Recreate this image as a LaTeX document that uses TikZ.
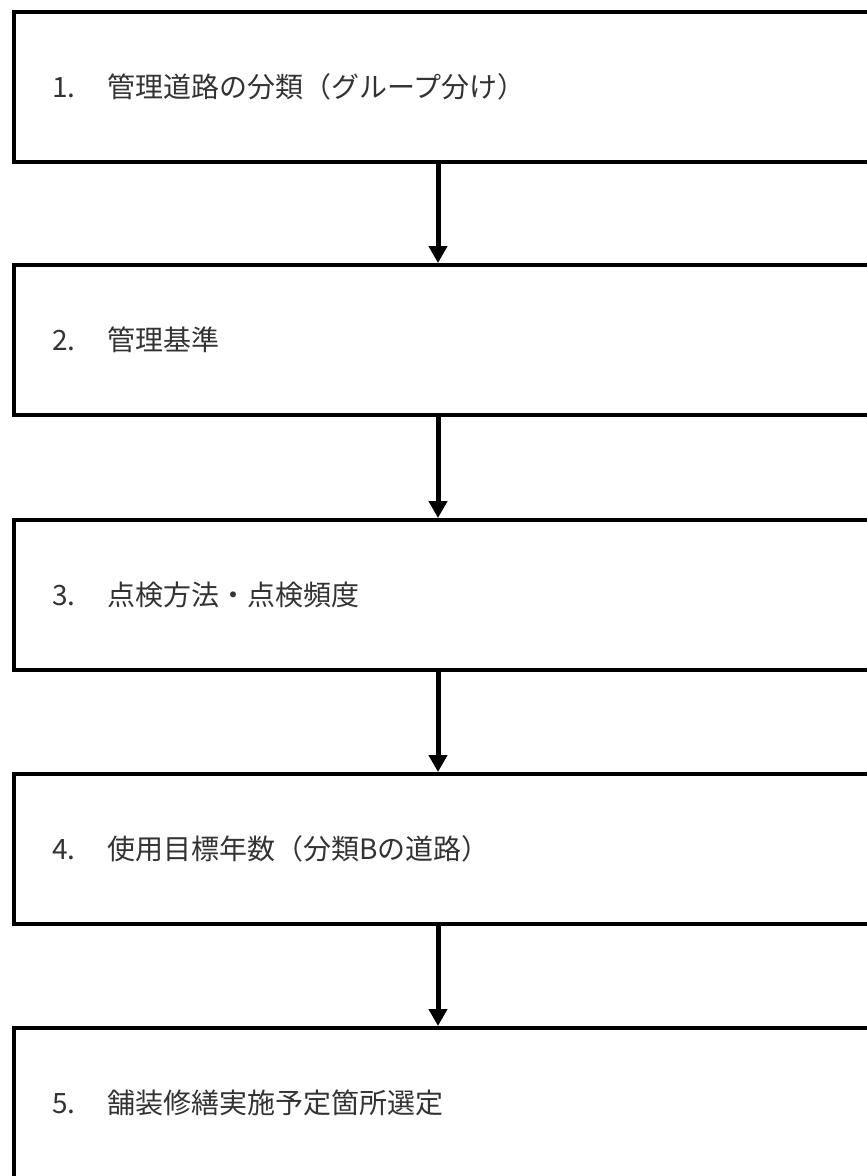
\documentclass[tikz,border=0pt]{standalone}
\usepackage{fontspec}
\newfontfamily\jp{Noto Sans CJK JP}
\usetikzlibrary{arrows.meta}
\begin{document}
\begin{tikzpicture}[x=1pt,y=-1pt,
  boxstyle/.style={draw=black, line width=4pt, rectangle, minimum width=886pt, minimum height=150pt, anchor=north west, inner sep=0pt},
  txt/.style={anchor=west, font=\jp\fontsize{28}{32}\selectfont, inner sep=0pt, text=black!80},
  flow/.style={line width=5pt, -{Triangle[width=18pt,length=17pt]}}]
\useasboundingbox[fill=white] (0,0) rectangle (867,1176);
\coordinate (ax) at (438,0);
\node[boxstyle] (b1) at (12,10) {};
\node[boxstyle] (b2) at (12,263) {};
\node[boxstyle] (b3) at (12,518) {};
\node[boxstyle] (b4) at (12,772) {};
\node[boxstyle] (b5) at (12,1026) {};
\node[txt] (t1) at (52,87) {\makebox[55pt][l]{1.}管理道路の分類（グループ分け）};
\node[txt] (t2) at (52,340) {\makebox[55pt][l]{2.}管理基準};
\node[txt] (t3) at (52,595) {\makebox[55pt][l]{3.}点検方法・点検頻度};
\node[txt] (t4) at (52,849) {\makebox[55pt][l]{4.}使用目標年数（分類Bの道路）};
\node[txt] (t5) at (52,1103) {\makebox[55pt][l]{5.}舗装修繕実施予定箇所選定};
\draw[flow] (b1.south -| ax) -- (b2.north -| ax);
\draw[flow] (b2.south -| ax) -- (b3.north -| ax);
\draw[flow] (b3.south -| ax) -- (b4.north -| ax);
\draw[flow] (b4.south -| ax) -- (b5.north -| ax);
\end{tikzpicture}
\end{document}
